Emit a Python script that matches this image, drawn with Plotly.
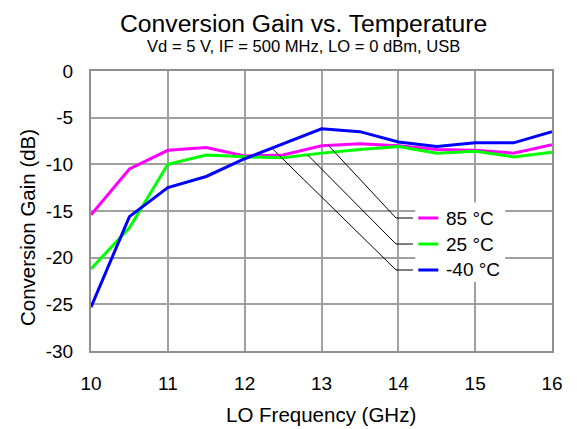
import plotly.graph_objects as go

freq = [10, 10.5, 11, 11.5, 12, 12.5, 13, 13.5, 14, 14.5, 15, 15.5, 16]
gain_85 = [-15.4, -10.5, -8.5, -8.2, -9.1, -9.0, -8.0, -7.8, -8.0, -8.4, -8.5, -8.8, -7.9]
gain_25 = [-21.2, -16.8, -10.0, -9.0, -9.2, -9.3, -8.8, -8.4, -8.1, -8.8, -8.6, -9.2, -8.7]
gain_m40 = [-25.3, -15.6, -12.5, -11.3, -9.4, -7.8, -6.2, -6.5, -7.6, -8.1, -7.7, -7.7, -6.5]

series_names = ["85 °C", "25 °C", "-40 °C"]
series_colors = ["#ff00ff", "#00ff00", "#0000ff"]
series_data = [gain_85, gain_25, gain_m40]

x_ticks = [10, 11, 12, 13, 14, 15, 16]
x_ticktext = ["10", "11", "12", "13", "14", "15", "16"]
y_ticks = [0, -5, -10, -15, -20, -25, -30]
y_ticktext = ["0", "-5", "-10", "-15", "-20", "-25", "-30"]

FONT = "Liberation Sans, Arial, sans-serif"

fig = go.Figure()
for name, col, ys in zip(series_names, series_colors, series_data):
    fig.add_trace(go.Scatter(x=freq, y=ys, mode="lines", name=name,
                             line=dict(color=col, width=3), showlegend=False))

# manual legend with callouts
legend_rows_y = [-15.75, -18.54, -21.32]
callout_pts = [(13.085, -7.93), (12.82, -9.0), (12.37, -8.4)]
shapes = [dict(type="rect", xref="x", yref="y", x0=14.22, x1=15.39, y0=-22.6, y1=-14.1,
               fillcolor="white", line=dict(width=0), layer="above")]
annotations = []
for (name, col, ry, (cx, cy)) in zip(series_names, series_colors, legend_rows_y, callout_pts):
    shapes.append(dict(type="path", xref="x", yref="y",
                       path=f"M {cx},{cy} L 13.97,{ry} L 14.19,{ry}",
                       line=dict(color="#000000", width=1), layer="above"))
    shapes.append(dict(type="line", xref="x", yref="y", x0=14.26, x1=14.52, y0=ry, y1=ry,
                       line=dict(color=col, width=3), layer="above"))
    annotations.append(dict(x=14.6, y=ry, xref="x", yref="y", text=name, showarrow=False,
                            xanchor="left", yanchor="middle",
                            font=dict(family=FONT, size=19, color="black")))

# plot area on screen: x 91..552 px, y 71..351 px
PH = 280.0
PW = 461.0
def py(pix):
    return (351 - pix) / PH
def px(pix):
    return (pix - 91) / PW

annotations += [
    dict(text="Conversion Gain vs. Temperature", x=px(303), y=py(8), xref="paper", yref="paper",
         showarrow=False, xanchor="center", yanchor="top", font=dict(family=FONT, size=24.7, color="black")),
    dict(text="Vd = 5 V, IF = 500 MHz, LO = 0 dBm, USB", x=px(303), y=py(46), xref="paper", yref="paper",
         showarrow=False, xanchor="center", yanchor="middle", font=dict(family=FONT, size=16.6, color="black")),
    dict(text="LO Frequency (GHz)", x=px(321), y=py(414), xref="paper", yref="paper",
         showarrow=False, xanchor="center", yanchor="middle", font=dict(family=FONT, size=20.5, color="black")),
    dict(text="Conversion Gain (dB)", x=px(27), y=py(228), xref="paper", yref="paper", textangle=-90,
         showarrow=False, xanchor="center", yanchor="middle", font=dict(family=FONT, size=20.5, color="black")),
]

# page body has an 8px margin, so the figure is drawn offset by (8, 8)
fig.update_layout(
    width=569, height=421,
    margin=dict(l=83, r=25, t=63, b=78, autoexpand=False),
    paper_bgcolor="white", plot_bgcolor="white",
    font=dict(family=FONT, color="black"),
    shapes=shapes, annotations=annotations,
    xaxis=dict(range=[10, 16], tickvals=x_ticks, ticktext=x_ticktext, showgrid=True,
               gridcolor="#a0a0a0", gridwidth=1.5, automargin=False,
               showline=True, linecolor="#909090", linewidth=2, mirror=True, zeroline=False,
               ticks="", tickfont=dict(size=19), ticklabelstandoff=14),
    yaxis=dict(range=[-30, 0], tickvals=y_ticks, ticktext=y_ticktext, showgrid=True,
               gridcolor="#a0a0a0", gridwidth=1.5, automargin=False,
               showline=True, linecolor="#909090", linewidth=2, mirror=True, zeroline=False,
               ticks="", tickfont=dict(size=19), ticklabelstandoff=12),
)
fig.write_html("out.html")
